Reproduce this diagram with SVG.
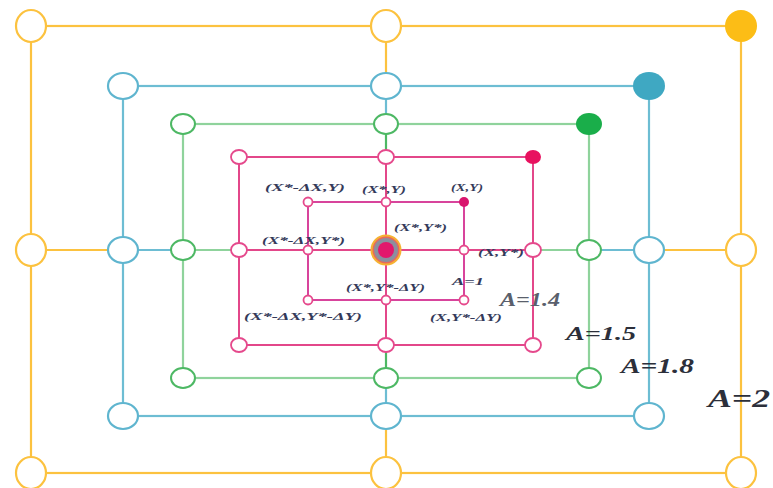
<svg xmlns="http://www.w3.org/2000/svg" width="773" height="488" viewBox="0 0 773 488">
<style>
.y{stroke:#fcc23f;stroke-width:2.2;fill:none}
.b{stroke:#6dbdd3;stroke-width:2.2;fill:none}
.g{stroke:#8fd39c;stroke-width:2.2;fill:none}
.p{stroke:#e3478a;stroke-width:2;fill:none}
.pi{stroke:#d8449c;stroke-width:2;fill:none}
.ny{stroke:#fcc23f;stroke-width:2.2;fill:#fff}
.nb{stroke:#5fb5cf;stroke-width:2.2;fill:#fff}
.ng{stroke:#4db864;stroke-width:2;fill:#fff}
.np{stroke:#e5498c;stroke-width:1.8;fill:#fff}
.lbl{font-family:"Liberation Serif",serif;font-style:italic;font-weight:bold;fill:#343a5a}
.s{font-size:11px}
.big{fill:#2c2f3a}
.gray{fill:#5a5f6c}
</style>
<rect width="773" height="488" fill="#fff"/>
<g id="connectors">
<rect class="y" x="31" y="26" width="710" height="447"/>
<rect class="b" x="123" y="86" width="526" height="330"/>
<rect class="g" x="183" y="124" width="406" height="254"/>
<rect class="p" x="239" y="157" width="294" height="188"/>
<rect class="pi" x="308" y="202" width="156" height="98"/>
<line class="y" x1="31" y1="250" x2="123" y2="250"/>
<line class="y" x1="649" y1="250" x2="741" y2="250"/>
<line class="y" x1="386" y1="26" x2="386" y2="86"/>
<line class="y" x1="386" y1="416" x2="386" y2="473"/>
<line class="b" x1="123" y1="250" x2="183" y2="250"/>
<line class="b" x1="589" y1="250" x2="649" y2="250"/>
<line class="b" x1="386" y1="86" x2="386" y2="124"/>
<line class="b" x1="386" y1="378" x2="386" y2="416"/>
<line class="g" x1="183" y1="250" x2="239" y2="250"/>
<line class="g" x1="533" y1="250" x2="589" y2="250"/>
<line class="g" x1="386" y1="124" x2="386" y2="157" style="stroke:#4db864"/>
<line class="g" x1="386" y1="345" x2="386" y2="378" style="stroke:#4db864"/>
<line class="p" x1="239" y1="250" x2="533" y2="250"/>
<line class="p" x1="386" y1="157" x2="386" y2="345"/>
</g>
<g id="n-y-tl"><ellipse class="ny" cx="31" cy="26" rx="15" ry="16"/></g>
<g id="n-y-tm"><ellipse class="ny" cx="386" cy="26" rx="15" ry="16"/></g>
<g id="n-y-tr"><ellipse cx="741" cy="26" rx="16" ry="16" fill="#fcbd16"/></g>
<g id="n-y-ml"><ellipse class="ny" cx="31" cy="250" rx="15" ry="16"/></g>
<g id="n-y-mr"><ellipse class="ny" cx="741" cy="250" rx="15" ry="16"/></g>
<g id="n-y-bl"><ellipse class="ny" cx="31" cy="473" rx="15" ry="16"/></g>
<g id="n-y-bm"><ellipse class="ny" cx="386" cy="473" rx="15" ry="16"/></g>
<g id="n-y-br"><ellipse class="ny" cx="741" cy="473" rx="15" ry="16"/></g>
<g id="n-b-tl"><ellipse class="nb" cx="123" cy="86" rx="15" ry="13"/></g>
<g id="n-b-tm"><ellipse class="nb" cx="386" cy="86" rx="15" ry="13"/></g>
<g id="n-b-tr"><ellipse cx="649" cy="86" rx="16" ry="14" fill="#3fa8c2"/></g>
<g id="n-b-ml"><ellipse class="nb" cx="123" cy="250" rx="15" ry="13"/></g>
<g id="n-b-mr"><ellipse class="nb" cx="649" cy="250" rx="15" ry="13"/></g>
<g id="n-b-bl"><ellipse class="nb" cx="123" cy="416" rx="15" ry="13"/></g>
<g id="n-b-bm"><ellipse class="nb" cx="386" cy="416" rx="15" ry="13"/></g>
<g id="n-b-br"><ellipse class="nb" cx="649" cy="416" rx="15" ry="13"/></g>
<g id="n-g-tl"><ellipse class="ng" cx="183" cy="124" rx="12" ry="10"/></g>
<g id="n-g-tm"><ellipse class="ng" cx="386" cy="124" rx="12" ry="10"/></g>
<g id="n-g-tr"><ellipse cx="589" cy="124" rx="13" ry="11" fill="#1aae4a"/></g>
<g id="n-g-ml"><ellipse class="ng" cx="183" cy="250" rx="12" ry="10"/></g>
<g id="n-g-mr"><ellipse class="ng" cx="589" cy="250" rx="12" ry="10"/></g>
<g id="n-g-bl"><ellipse class="ng" cx="183" cy="378" rx="12" ry="10"/></g>
<g id="n-g-bm"><ellipse class="ng" cx="386" cy="378" rx="12" ry="10"/></g>
<g id="n-g-br"><ellipse class="ng" cx="589" cy="378" rx="12" ry="10"/></g>
<g id="n-p-tl"><ellipse class="np" cx="239" cy="157" rx="8" ry="7"/></g>
<g id="n-p-tm"><ellipse class="np" cx="386" cy="157" rx="8" ry="7"/></g>
<g id="n-p-tr"><ellipse cx="533" cy="157" rx="8" ry="7" fill="#e8115f"/></g>
<g id="n-p-ml"><ellipse class="np" cx="239" cy="250" rx="8" ry="7"/></g>
<g id="n-p-mr"><ellipse class="np" cx="533" cy="250" rx="8" ry="7"/></g>
<g id="n-p-bl"><ellipse class="np" cx="239" cy="345" rx="8" ry="7"/></g>
<g id="n-p-bm"><ellipse class="np" cx="386" cy="345" rx="8" ry="7"/></g>
<g id="n-p-br"><ellipse class="np" cx="533" cy="345" rx="8" ry="7"/></g>
<g id="n-i-tl"><circle class="np" cx="308" cy="202" r="4.5"/></g>
<g id="n-i-tm"><circle class="np" cx="386" cy="202" r="4.5"/></g>
<g id="n-i-tr"><circle cx="464" cy="202" r="5" fill="#d9156e"/></g>
<g id="n-i-ml"><circle class="np" cx="308" cy="250" r="4.5"/></g>
<g id="n-i-mr"><circle class="np" cx="464" cy="250" r="4.5"/></g>
<g id="n-i-bl"><circle class="np" cx="308" cy="300" r="4.5"/></g>
<g id="n-i-bm"><circle class="np" cx="386" cy="300" r="4.5"/></g>
<g id="n-i-br"><circle class="np" cx="464" cy="300" r="4.5"/></g>
<g id="n-center">
<circle cx="386" cy="250" r="15.5" fill="#f6b232"/>
<circle cx="386" cy="250" r="13.5" fill="#e76a5a"/>
<circle cx="386" cy="250" r="12" fill="#8c8f9e"/>
<circle cx="386" cy="250" r="8" fill="#e2186c"/>
</g>
<g id="labels">
<text class="lbl s" x="265" y="191" textLength="80" lengthAdjust="spacingAndGlyphs">(X*-ΔX,Y)</text>
<text class="lbl s" x="362" y="193" textLength="44" lengthAdjust="spacingAndGlyphs">(X*,Y)</text>
<text class="lbl s" x="451" y="191" textLength="32" lengthAdjust="spacingAndGlyphs">(X,Y)</text>
<text class="lbl s" x="394" y="231" textLength="53" lengthAdjust="spacingAndGlyphs">(X*,Y*)</text>
<text class="lbl s" x="262" y="244" textLength="83" lengthAdjust="spacingAndGlyphs">(X*-ΔX,Y*)</text>
<text class="lbl s" x="478" y="256" textLength="46" lengthAdjust="spacingAndGlyphs">(X,Y*)</text>
<text class="lbl s" x="346" y="291" textLength="79" lengthAdjust="spacingAndGlyphs">(X*,Y*-ΔY)</text>
<text class="lbl s" x="452" y="285" textLength="32" lengthAdjust="spacingAndGlyphs">A=1</text>
<text class="lbl s" x="244" y="320" textLength="118" lengthAdjust="spacingAndGlyphs">(X*-ΔX,Y*-ΔY)</text>
<text class="lbl s" x="430" y="321" textLength="72" lengthAdjust="spacingAndGlyphs">(X,Y*-ΔY)</text>
<text class="lbl gray" x="500" y="306" font-size="18" textLength="60" lengthAdjust="spacingAndGlyphs">A=1.4</text>
<text class="lbl big" x="566" y="340" font-size="19" textLength="70" lengthAdjust="spacingAndGlyphs">A=1.5</text>
<text class="lbl big" x="621" y="373" font-size="20" textLength="73" lengthAdjust="spacingAndGlyphs">A=1.8</text>
<text class="lbl big" x="708" y="407" font-size="25" textLength="62" lengthAdjust="spacingAndGlyphs">A=2</text>
</g>
</svg>
